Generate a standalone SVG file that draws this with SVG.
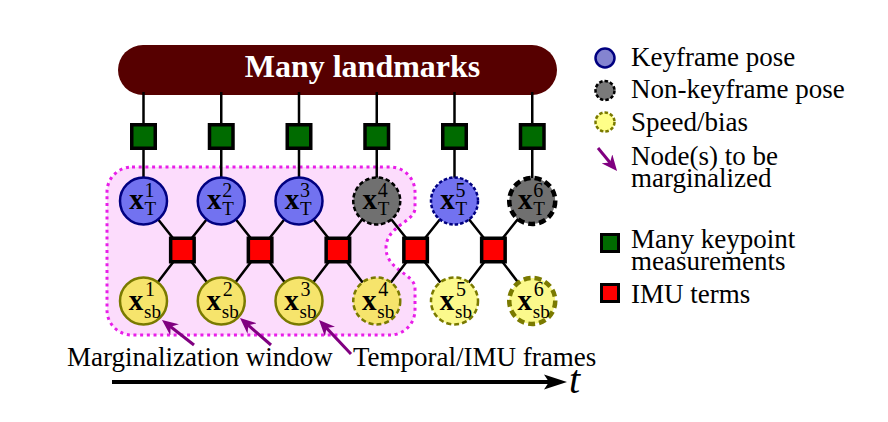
<svg xmlns="http://www.w3.org/2000/svg" width="888" height="422" viewBox="0 0 888 422">
<style>
text{font-family:"Liberation Serif","Times New Roman",serif;fill:#000}
.lbl{font-size:27px}
.xb{font-size:29px;font-weight:bold}
.sup{font-size:20px}
.sub{font-size:19px}
.edge{stroke:#000;stroke-width:2.5;fill:none}
.kf{fill:#7272f0;stroke:#000080;stroke-width:2.5}
.kf5{fill:#7272f0;stroke:#000080;stroke-width:2.5;stroke-dasharray:3.5 2}
.nk{fill:#707070;stroke:#000;stroke-width:2.5;stroke-dasharray:4.5 2.5}
.nk6{fill:#707070;stroke:#000;stroke-width:4.5;stroke-dasharray:7 4}
.sbi{fill:#f6e46c;stroke:#7a7a00;stroke-width:2.5}
.sbi4{fill:#f6e46c;stroke:#7a7a00;stroke-width:2.5;stroke-dasharray:5 3}
.sbo{fill:#fbf98c;stroke:#7a7a00;stroke-width:2.5;stroke-dasharray:5 3}
.sbo6{fill:#fbf98c;stroke:#7a7a00;stroke-width:4.5;stroke-dasharray:7 4}
.kp{fill:#006b00;stroke:#000;stroke-width:3.5}
.imu{fill:#ff0000;stroke:#000;stroke-width:3.5}
.parr{stroke:#800080;stroke-width:3;fill:none;marker-end:url(#pa)}
</style>
<defs>
<marker id="pa" viewBox="0 0 16 14" refX="9" refY="7" markerWidth="16" markerHeight="14" markerUnits="userSpaceOnUse" orient="auto">
<path d="M0,0 L16,7 L0,14 L5,7 Z" fill="#800080"/>
</marker>
</defs>
<rect width="888" height="422" fill="#fff"/>

<g id="window">
<path d="M132,167 H390 A25,25 0 0 1 415,192 V208 C415,222 386,226 386,248 C386,270 415,274 415,288 V310 A25,25 0 0 1 390,335 H132 A25,25 0 0 1 107,310 V192 A25,25 0 0 1 132,167 Z" fill="#fcdcfc" stroke="#e81ee8" stroke-width="3" stroke-dasharray="3 3.7"/>
</g>

<g id="landmarks">
<rect x="118" y="45" width="439" height="50" rx="25" ry="25" fill="#560000"/>
<text x="362.5" y="77" text-anchor="middle" style="font-size:32px;font-weight:bold;fill:#fff">Many landmarks</text>
</g>

<g id="connectors">
<line class="edge" x1="143.5" y1="92" x2="143.5" y2="201"/>
<line class="edge" x1="221.25" y1="92" x2="221.25" y2="201"/>
<line class="edge" x1="299" y1="92" x2="299" y2="201"/>
<line class="edge" x1="376.75" y1="92" x2="376.75" y2="201"/>
<line class="edge" x1="454.5" y1="92" x2="454.5" y2="201"/>
<line class="edge" x1="532.25" y1="92" x2="532.25" y2="201"/>
<path class="edge" d="M143.5,201 L182.4,250 L221.25,201 M143.5,301 L182.4,250 L221.25,301"/>
<path class="edge" d="M221.25,201 L260.1,250 L299,201 M221.25,301 L260.1,250 L299,301"/>
<path class="edge" d="M299,201 L337.9,250 L376.75,201 M299,301 L337.9,250 L376.75,301"/>
<path class="edge" d="M376.75,201 L415.6,250 L454.5,201 M376.75,301 L415.6,250 L454.5,301"/>
<path class="edge" d="M454.5,201 L493.4,250 L532.25,201 M454.5,301 L493.4,250 L532.25,301"/>
<line class="parr" x1="194" y1="345" x2="167.5" y2="324.3"/>
<line class="parr" x1="271" y1="345" x2="245.3" y2="322.6"/>
<line class="parr" x1="351" y1="354" x2="323.8" y2="325.1"/>
<line x1="112" y1="382" x2="552" y2="382" stroke="#000" stroke-width="4"/>
<path d="M567,382 L544,374.5 L549,382 L544,389.5 Z" fill="#000"/>
</g>

<g id="keypoints">
<rect class="kp" x="131.75" y="124.75" width="23.5" height="23.5"/>
<rect class="kp" x="209.5" y="124.75" width="23.5" height="23.5"/>
<rect class="kp" x="287.25" y="124.75" width="23.5" height="23.5"/>
<rect class="kp" x="365" y="124.75" width="23.5" height="23.5"/>
<rect class="kp" x="442.75" y="124.75" width="23.5" height="23.5"/>
<rect class="kp" x="520.5" y="124.75" width="23.5" height="23.5"/>
</g>

<g id="imu-terms">
<rect class="imu" x="170.65" y="238.25" width="23.5" height="23.5"/>
<rect class="imu" x="248.35" y="238.25" width="23.5" height="23.5"/>
<rect class="imu" x="326.15" y="238.25" width="23.5" height="23.5"/>
<rect class="imu" x="403.85" y="238.25" width="23.5" height="23.5"/>
<rect class="imu" x="481.65" y="238.25" width="23.5" height="23.5"/>
</g>

<g id="xT1"><circle class="kf" cx="143.5" cy="201" r="23.5"/>
<text class="xb" x="136.5" y="208.5" text-anchor="middle">x</text><text class="sup" x="144.5" y="196.5">1</text><text class="sub" x="144.5" y="214.5">T</text></g>
<g id="xT2"><circle class="kf" cx="221.25" cy="201" r="23.5"/>
<text class="xb" x="214.25" y="208.5" text-anchor="middle">x</text><text class="sup" x="222.25" y="196.5">2</text><text class="sub" x="222.25" y="214.5">T</text></g>
<g id="xT3"><circle class="kf" cx="299" cy="201" r="23.5"/>
<text class="xb" x="292" y="208.5" text-anchor="middle">x</text><text class="sup" x="300" y="196.5">3</text><text class="sub" x="300" y="214.5">T</text></g>
<g id="xT4"><circle class="nk" cx="376.75" cy="201" r="23.5"/>
<text class="xb" x="369.75" y="208.5" text-anchor="middle">x</text><text class="sup" x="377.75" y="196.5">4</text><text class="sub" x="377.75" y="214.5">T</text></g>
<g id="xT5"><circle class="kf5" cx="454.5" cy="201" r="23.5"/>
<text class="xb" x="447.5" y="208.5" text-anchor="middle">x</text><text class="sup" x="455.5" y="196.5">5</text><text class="sub" x="455.5" y="214.5">T</text></g>
<g id="xT6"><circle class="nk6" cx="532.25" cy="201" r="23"/>
<text class="xb" x="525.25" y="208.5" text-anchor="middle">x</text><text class="sup" x="533.25" y="196.5">6</text><text class="sub" x="533.25" y="214.5">T</text></g>

<g id="xsb1"><circle class="sbi" cx="143.5" cy="301" r="23.5"/>
<text class="xb" x="136" y="309.5" text-anchor="middle">x</text><text class="sup" x="145" y="296">1</text><text class="sub" x="144" y="318">sb</text></g>
<g id="xsb2"><circle class="sbi" cx="221.25" cy="301" r="23.5"/>
<text class="xb" x="213.75" y="309.5" text-anchor="middle">x</text><text class="sup" x="222.75" y="296">2</text><text class="sub" x="221.75" y="318">sb</text></g>
<g id="xsb3"><circle class="sbi" cx="299" cy="301" r="23.5"/>
<text class="xb" x="291.5" y="309.5" text-anchor="middle">x</text><text class="sup" x="300.5" y="296">3</text><text class="sub" x="299.5" y="318">sb</text></g>
<g id="xsb4"><circle class="sbi4" cx="376.75" cy="301" r="23.5"/>
<text class="xb" x="369.25" y="309.5" text-anchor="middle">x</text><text class="sup" x="378.25" y="296">4</text><text class="sub" x="377.25" y="318">sb</text></g>
<g id="xsb5"><circle class="sbo" cx="454.5" cy="301" r="23.5"/>
<text class="xb" x="447" y="309.5" text-anchor="middle">x</text><text class="sup" x="456" y="296">5</text><text class="sub" x="455" y="318">sb</text></g>
<g id="xsb6"><circle class="sbo6" cx="532.25" cy="301" r="23"/>
<text class="xb" x="524.75" y="309.5" text-anchor="middle">x</text><text class="sup" x="533.75" y="296">6</text><text class="sub" x="532.75" y="318">sb</text></g>

<g id="labels">
<text class="lbl" x="67" y="366">Marginalization window</text>
<text class="lbl" x="353" y="366">Temporal/IMU frames</text>
<text x="569" y="393" style="font-size:40px;font-style:italic">t</text>
</g>

<g id="legend">
<circle cx="605" cy="58" r="9.5" fill="#8484d0" stroke="#000080" stroke-width="2.5"/>
<text class="lbl" x="631" y="66">Keyframe pose</text>
<circle cx="605" cy="90.5" r="9.5" fill="#7a7a7a" stroke="#000" stroke-width="2.5" stroke-dasharray="3.5 2"/>
<text class="lbl" x="631" y="98">Non-keyframe pose</text>
<circle cx="605" cy="122" r="9.5" fill="#ffff88" stroke="#7a7a00" stroke-width="2.5" stroke-dasharray="3.5 2"/>
<text class="lbl" x="631" y="131">Speed/bias</text>
<line class="parr" x1="598" y1="148" x2="612.6" y2="165.7"/>
<text class="lbl" x="631" y="165">Node(s) to be</text>
<text class="lbl" x="631" y="187">marginalized</text>
<rect class="kp" x="601.5" y="234.5" width="17" height="17" style="stroke-width:3"/>
<text class="lbl" x="631" y="248">Many keypoint</text>
<text class="lbl" x="631" y="270">measurements</text>
<rect class="imu" x="601.5" y="284.5" width="17" height="17" style="stroke-width:3"/>
<text class="lbl" x="631" y="303">IMU terms</text>
</g>
</svg>
